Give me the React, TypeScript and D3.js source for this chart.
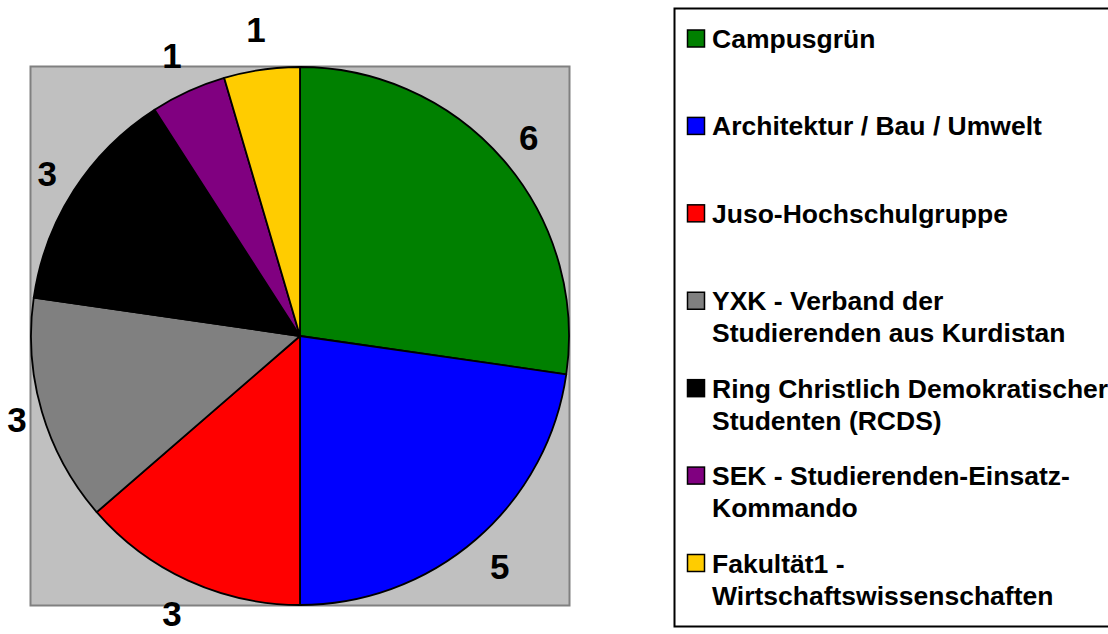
import React from "react";
import * as d3 from "d3";

const categories = [
  "Campusgrün",
  "Architektur / Bau / Umwelt",
  "Juso-Hochschulgruppe",
  "YXK - Verband der Studierenden aus Kurdistan",
  "Ring Christlich Demokratischer Studenten (RCDS)",
  "SEK - Studierenden-Einsatz-Kommando",
  "Fakultät1 - Wirtschaftswissenschaften",
];
const values = [6, 5, 3, 3, 3, 1, 1];
const colors = ["#008000", "#0000FF", "#FF0000", "#808080", "#000000", "#800080", "#FFCC00"];
const legendLines = [
  ["Campusgrün"],
  ["Architektur / Bau / Umwelt"],
  ["Juso-Hochschulgruppe"],
  ["YXK - Verband der", "Studierenden aus Kurdistan"],
  ["Ring Christlich Demokratischer", "Studenten (RCDS)"],
  ["SEK - Studierenden-Einsatz-", "Kommando"],
  ["Fakultät1 -", "Wirtschaftswissenschaften"],
];

const W = 1108;
const H = 634;
const cx = 300;
const cy = 336;
const R = 269;
const LABEL_SIZE = 35;
const FONT = "'Liberation Sans', Arial, Helvetica, sans-serif";

export default function App() {
  const data = categories.map((c, i) => ({ name: c, value: values[i], color: colors[i] }));
  const pie = d3.pie<any>().value((d) => d.value).sort(null);
  const arcs = pie(data);
  const arc = d3.arc<any>().innerRadius(0).outerRadius(R);

  const legendY = d3.scaleLinear().domain([0, 6]).range([38.5, 563]);
  // keep label text boxes (incl. descent) inside the picture
  const maxBaseline = H - cy - LABEL_SIZE * 0.22;

  return (
    <svg
      width={W}
      height={H}
      style={{ position: "absolute", left: 0, top: 0, background: "#fff" }}
      fontFamily={FONT}
    >
      <rect x={30.5} y={66.5} width={539} height={539} fill="#C0C0C0" stroke="#808080" strokeWidth={2} />
      <g transform={`translate(${cx},${cy})`}>
        {arcs.map((a, i) => (
          <path key={i} d={arc(a) as string} fill={a.data.color} stroke="#000" strokeWidth={1.8} strokeLinejoin="round" />
        ))}
        {arcs.map((a, i) => {
          const mid = (a.startAngle + a.endAngle) / 2;
          const dist = R + 20 + 21 * Math.abs(Math.cos(mid));
          const x = dist * Math.sin(mid);
          const y = -dist * Math.cos(mid);
          return (
            <text
              key={"l" + i}
              x={x}
              y={Math.min(y + 12.5, maxBaseline)}
              textAnchor="middle"
              fontSize={LABEL_SIZE}
              fontWeight="bold"
              fill="#000"
            >
              {a.data.value}
            </text>
          );
        })}
      </g>
      <rect x={674.5} y={8.5} width={450} height={618} fill="#fff" stroke="#000" strokeWidth={2} />
      {legendLines.map((lines, i) => {
        const yc = legendY(i);
        return (
          <g key={"lg" + i}>
            <rect x={687.5} y={yc - 8.5} width={17} height={17} fill={colors[i]} stroke="#000" strokeWidth={1.5} />
            {lines.map((t, j) => (
              <text key={j} x={712} y={yc + 9.5 + j * 32} fontSize={26.5} fontWeight="bold" fill="#000">
                {t}
              </text>
            ))}
          </g>
        );
      })}
    </svg>
  );
}
